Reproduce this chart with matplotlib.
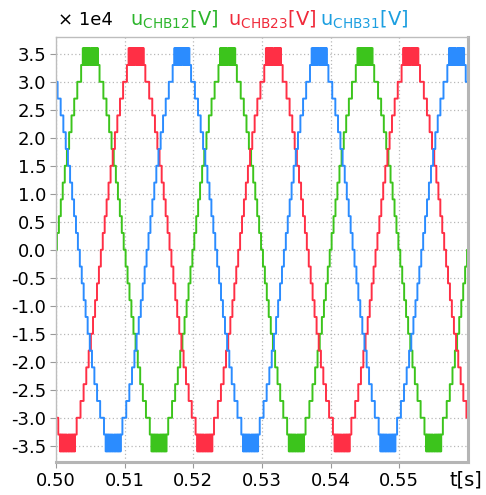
# Staircase line-to-line voltages of a cascaded H-bridge converter
# three phases, 50 Hz, shown from 0.50 s to 0.56 s

import numpy as np
import matplotlib
matplotlib.use('Agg')
from matplotlib import pyplot as plt

plt.rcParams['axes.unicode_minus'] = False
plt.rcParams['font.family'] = 'DejaVu Sans'

# values
period_ms = 20.0                 # 50 Hz
level_step = 0.3                 # one cell level, in units of 1e4 V
# instants (ms after the rising zero crossing) where level 1..11 is reached
step_ms = [0.14, 0.42, 0.70, 0.98, 1.28, 1.59, 1.91, 2.26, 2.65, 3.10, 3.66]
# toggles between level 12 and 11 around the crest (first quarter only)
top_ms = [3.90, 3.98, 4.06, 4.18, 4.26, 4.38, 4.46, 4.60, 4.68, 4.82, 4.90]

names = ['CHB12', 'CHB23', 'CHB31']
zero_cross_s = [0.50, 0.50667, 0.51333]     # rising zero crossing of each phase
line_colors = ['#3cc41c', '#ff2f45', '#2b8cff']
text_colors = ['#2cb52c', '#f02a3a', '#1c9fe0']

x_ticks = [0.50, 0.51, 0.52, 0.53, 0.54, 0.55]
y_ticks = [-3.5, -3.0, -2.5, -2.0, -1.5, -1.0, -0.5, 0.0,
           0.5, 1.0, 1.5, 2.0, 2.5, 3.0, 3.5]


def one_period():
    # first quarter segments, mirrored to a half wave, then negated
    edges = [0.0] + step_ms + top_ms + [period_ms / 4]
    lev = list(range(0, 12)) + [12 if i % 2 == 0 else 11 for i in range(len(top_ms))]
    half = period_ms / 2
    starts = edges[:-1] + [half - e for e in edges[1:]][::-1]
    levels = lev + lev[::-1]
    starts = starts + [half + s for s in starts]
    levels = levels + [-l for l in levels]
    return np.array(starts), np.array(levels)


starts, levels = one_period()

fig = plt.figure(figsize=(4.86, 4.95), dpi=100)
ax = fig.add_axes([56 / 486, 33 / 495, 412 / 486, 425 / 495])

for t0, col in zip(zero_cross_s, line_colors):
    tt = []
    vv = []
    for k in range(-2, 5):
        tt.append(t0 + (k * period_ms + starts) / 1000.0)
        vv.append(levels * level_step)
    tt = np.concatenate(tt)
    vv = np.concatenate(vv)
    ax.plot(tt, vv, drawstyle='steps-post', color=col, lw=1.4)

ax.set_xlim(0.50, 0.56)
ax.set_ylim(-3.79, 3.8)
ax.set_xticks(x_ticks)
ax.set_xticklabels(['%.2f' % x for x in x_ticks])
ax.set_yticks(y_ticks)
ax.set_yticklabels(['%.1f' % y for y in y_ticks])
ax.tick_params(labelsize=13, length=4, color='#999999', pad=3)
ax.grid(True, color='#b8b8b8', ls=(0, (1, 2)), lw=0.9)

for side in ['left', 'top']:
    ax.spines[side].set_color('#bdbdbd')
    ax.spines[side].set_linewidth(1.0)
for side in ['right', 'bottom']:
    ax.spines[side].set_color('#b5b5b5')
    ax.spines[side].set_linewidth(2.2)

fig.text(58 / 486, 1 - 20 / 495, u'\u00d7 1e4', fontsize=13, va='center', ha='left')
x_pos = [130, 228, 320]
for name, col, xp in zip(names, text_colors, x_pos):
    fig.text(xp / 486, 1 - 20 / 495, r'$\mathregular{u_{%s}[V]}$' % name,
             fontsize=14, color=col, va='center', ha='left')

fig.text(466 / 486, 1 - 480 / 495, 't[s]', fontsize=14, ha='center', va='center')

fig.savefig('out.png', dpi=100)
